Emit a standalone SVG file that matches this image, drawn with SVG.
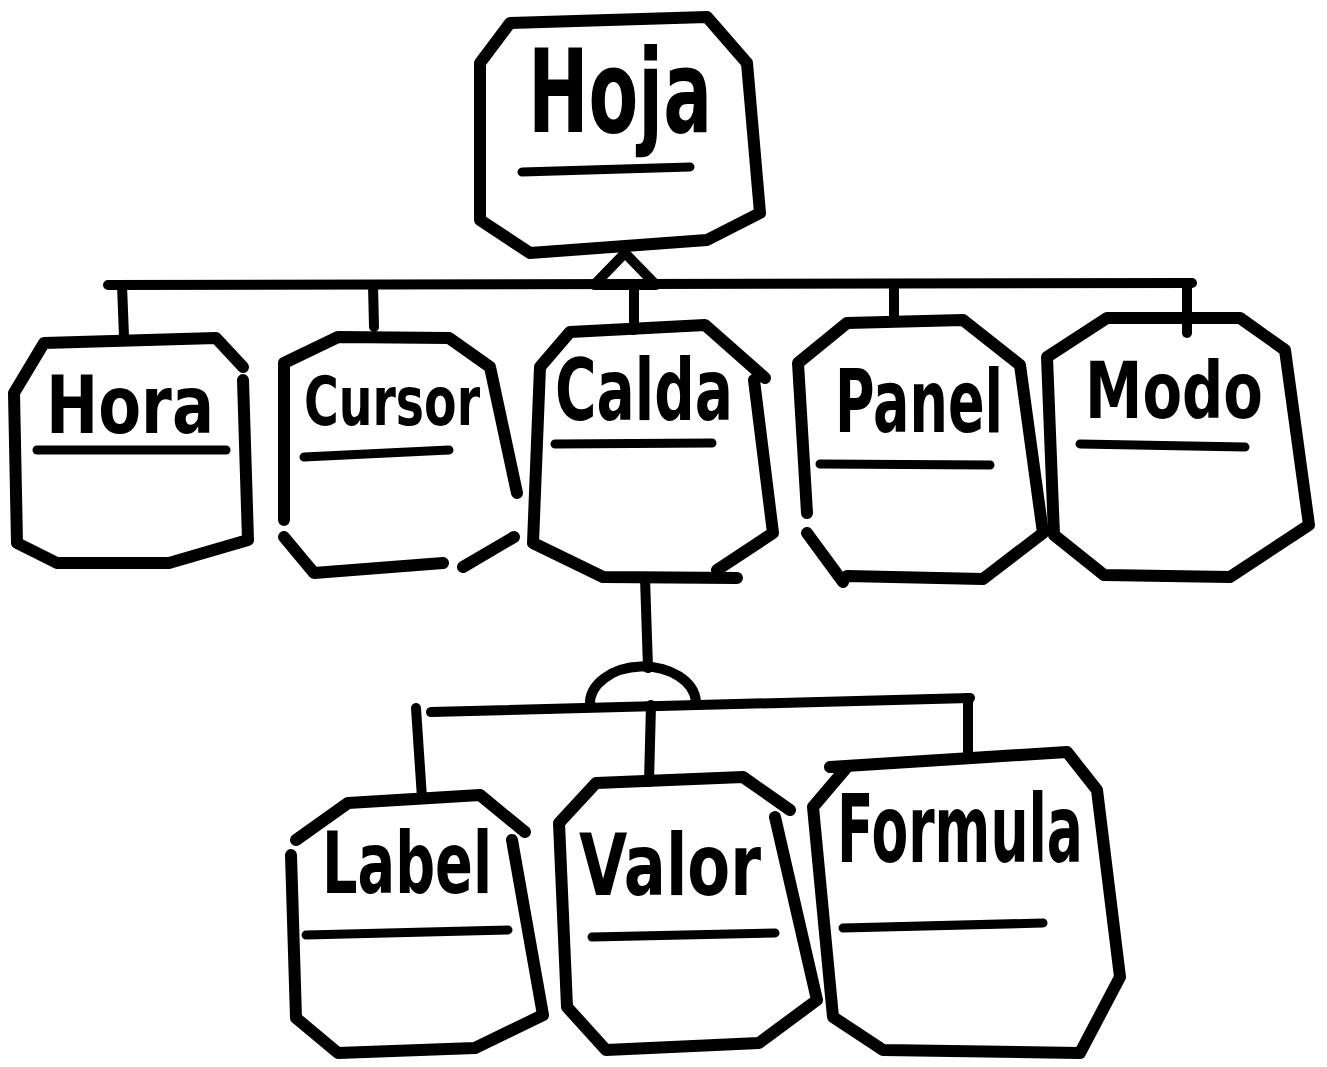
<svg xmlns="http://www.w3.org/2000/svg" width="1327" height="1067" viewBox="0 0 1327 1067">
<style>
.box{fill:none;stroke:#000;stroke-width:12;stroke-linejoin:round;stroke-linecap:round}
.ul{fill:none;stroke:#000;stroke-width:9;stroke-linecap:round}
.con{fill:none;stroke:#000;stroke-width:10;stroke-linecap:round;stroke-linejoin:round}
.lbl{font-family:"DejaVu Sans","Liberation Sans",sans-serif;font-weight:bold;fill:#000}
</style>
<rect width="1327" height="1067" fill="#fff"/>
<g id="connectors">
<path class="con" d="M108,285 L1192,283"/>
<path class="con" d="M122,285 L124,337"/>
<path class="con" d="M373,285 L374,327"/>
<path class="con" d="M634,287 L634,330"/>
<path class="con" d="M894,284 L894,322"/>
<path class="con" d="M1187,283 L1187,333"/>
<path class="con" d="M625,253 L594,285 L656,285 Z" fill="#fff"/>
<path class="con" d="M645,578 L648,668"/>
<path class="con" d="M590,705 A53,37 0 0 1 696,702"/>
<path class="con" d="M431,712 L970,698"/>
<path class="con" d="M968,698 L968,752"/>
<path class="con" d="M651,705 L649,782"/>
<path class="con" d="M416,708 L422,798"/>
</g>
<g id="hoja">
<path class="box" d="M510,23 L707,17 L747,63 L760,213 L707,240 L530,253 L480,220 L480,63 Z"/>
<text class="lbl" x="528" y="132" font-size="115" textLength="184" lengthAdjust="spacingAndGlyphs">Hoja</text>
<path class="ul" d="M522,172 L690,167"/>
</g>
<g id="hora">
<path class="box" d="M243,380 L248,540 L169,563 L57,563 L17,543 L14,393 L44,343 L216,338 L243,367"/>
<text class="lbl" x="46" y="433" font-size="80" textLength="168" lengthAdjust="spacingAndGlyphs">Hora</text>
<path class="ul" d="M37,450 L226,450"/>
</g>
<g id="cursor">
<path class="box" d="M284,520 L284,363 L338,337 L449,338 L490,367 L517,493 M514,537 L463,567 M443,563 L314,573 L284,537"/>
<text class="lbl" x="304" y="425" font-size="68" textLength="176" lengthAdjust="spacingAndGlyphs">Cursor</text>
<path class="ul" d="M304,457 L449,450"/>
</g>
<g id="calda">
<path class="box" d="M540,367 L570,332 L705,325 L765,378 M754,380 L773,533 L717,570 M737,578 L603,577 L533,543 L540,367"/>
<text class="lbl" x="555" y="420" font-size="85" textLength="178" lengthAdjust="spacingAndGlyphs">Calda</text>
<path class="ul" d="M555,444 L712,443"/>
</g>
<g id="panel">
<path class="box" d="M807,513 L798,363 L847,323 L963,320 L1020,365 L1043,533 L983,579 L847,576 M843,582 L807,533"/>
<text class="lbl" x="835" y="432" font-size="88" textLength="168" lengthAdjust="spacingAndGlyphs">Panel</text>
<path class="ul" d="M820,464 L990,465"/>
</g>
<g id="modo">
<path class="box" d="M1047,357 L1107,318 L1240,318 L1285,350 L1309,525 L1230,577 L1104,575 L1054,535 Z"/>
<text class="lbl" x="1085" y="418" font-size="78" textLength="178" lengthAdjust="spacingAndGlyphs">Modo</text>
<path class="ul" d="M1080,444 L1245,447"/>
</g>
<g id="label">
<path class="box" d="M291,855 L296,1018 L338,1053 L475,1048 L543,1015 L512,840 M525,832 L480,795 L348,803 L296,840"/>
<text class="lbl" x="322" y="893" font-size="85" textLength="170" lengthAdjust="spacingAndGlyphs">Label</text>
<path class="ul" d="M306,935 L508,930"/>
</g>
<g id="valor">
<path class="box" d="M596,783 L743,777 L790,810 M775,817 L817,1000 L759,1043 L606,1050 L567,1007 L559,823 L596,783"/>
<text class="lbl" x="579" y="895" font-size="85" textLength="182" lengthAdjust="spacingAndGlyphs">Valor</text>
<path class="ul" d="M592,937 L775,933"/>
</g>
<g id="formula">
<path class="box" d="M830,767 L1067,752 L1097,790 L1120,977 L1080,1053 L883,1050 L833,1017 L813,807 L847,767"/>
<text class="lbl" x="837" y="862" font-size="95" textLength="246" lengthAdjust="spacingAndGlyphs">Formula</text>
<path class="ul" d="M843,928 L1043,923"/>
</g>
</svg>
